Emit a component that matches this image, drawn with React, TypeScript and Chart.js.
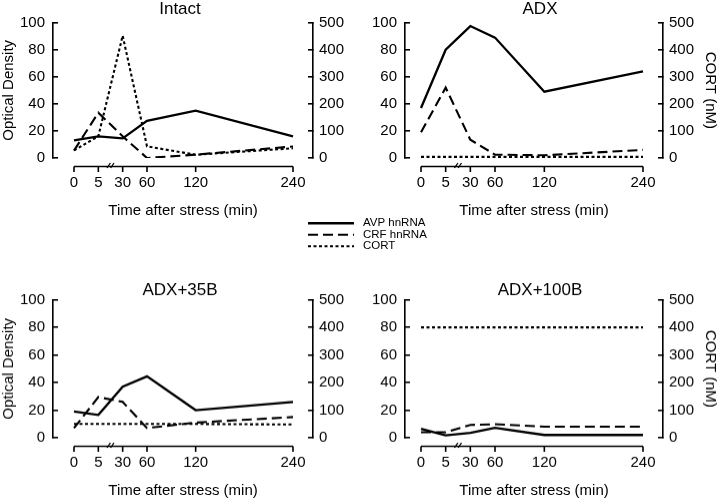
import React, { useEffect, useRef } from 'react';
import { Chart, registerables } from 'chart.js';

Chart.register(...registerables);

// ---- data ----
const TIME_MIN = [0, 5, 30, 60, 120, 240];
// evenly spaced slots of the broken time axis (0,5,30,60 one slot apart; 120 and 240 further out)
const TIME_SLOT = [0, 1, 2, 3, 5, 9];
const SERIES = ['AVP hnRNA', 'CRF hnRNA', 'CORT'];
const PANEL_TITLES = ['Intact', 'ADX', 'ADX+35B', 'ADX+100B'];

const INTACT_AVP = [13, 16, 14.5, 27.5, 35, 16];
const INTACT_CRF = [5.5, 33.5, 16, 0, 2.5, 8.5];
const INTACT_CORT = [28, 80, 452, 43, 12, 36];

const ADX_AVP = [37, 80, 97.5, 89, 49, 64];
const ADX_CRF = [19, 52, 13.5, 2.5, 2, 6];
const ADX_CORT = [4, 4, 4, 4, 4, 4];

const ADX35_AVP = [19, 16.5, 37, 44.5, 20, 26];
const ADX35_CRF = [7, 29.5, 26, 7, 11, 15];
const ADX35_CORT = [50, 50, 50, 50, 50, 48];

const ADX100_AVP = [6.5, 1.7, 3.5, 7.2, 2, 2];
const ADX100_CRF = [4, 4, 9.3, 9.8, 8, 8];
const ADX100_CORT = [400, 400, 400, 400, 400, 400];

const Y_LEFT_TICKS = [0, 20, 40, 60, 80, 100];
const Y_RIGHT_TICKS = [0, 100, 200, 300, 400, 500];

// ---- styles ----
const FONT = "'Liberation Sans', Arial, Helvetica, sans-serif";
const INK = '#000';
const STYLES = [
  { width: 2.3, dash: [] as number[] },
  { width: 2.1, dash: [10, 5] },
  { width: 2.1, dash: [3, 2.5] },
];

Chart.defaults.font.family = FONT;
Chart.defaults.color = INK;

const PANELS = [
  { title: PANEL_TITLES[0], avp: INTACT_AVP, crf: INTACT_CRF, cort: INTACT_CORT, col: 0, row: 0 },
  { title: PANEL_TITLES[1], avp: ADX_AVP, crf: ADX_CRF, cort: ADX_CORT, col: 1, row: 0 },
  { title: PANEL_TITLES[2], avp: ADX35_AVP, crf: ADX35_CRF, cort: ADX35_CORT, col: 0, row: 1 },
  { title: PANEL_TITLES[3], avp: ADX100_AVP, crf: ADX100_CRF, cort: ADX100_CORT, col: 1, row: 1 },
];

const PANEL_W = 360;
const ROW_GEO = [
  { top: 0, height: 220, titlePad: { top: 1, bottom: 4.7 } },
  { top: 277.3, height: 222.4, titlePad: { top: 5.2, bottom: 0.5 } },
];
const COL_GEO = [
  { left: 0, yW: 53, y2W: 47, xMin: -0.863, xMax: 9.822 },
  { left: 360, yW: 45, y2W: 57, xMin: -0.649, xMax: 9.811 },
];
const X_AXIS_GAP = 8.5;
const BREAK_SLOT = 1.5;

const brokenAxisPlugin = {
  id: 'brokenAxis',
  afterDraw(chart: any) {
    const xs = chart.scales.x;
    const ctx = chart.ctx;
    const y0 = chart.chartArea.bottom + X_AXIS_GAP;
    const xa = xs.getPixelForValue(TIME_SLOT[0]);
    const xb = xs.getPixelForValue(TIME_SLOT[TIME_SLOT.length - 1]);
    ctx.save();
    ctx.strokeStyle = INK;
    ctx.lineWidth = 1.6;
    ctx.beginPath();
    ctx.moveTo(xa, y0);
    ctx.lineTo(xb, y0);
    TIME_SLOT.forEach((v) => {
      const px = xs.getPixelForValue(v);
      ctx.moveTo(px, y0);
      ctx.lineTo(px, y0 + 5.5);
    });
    ctx.stroke();
    const bx = xs.getPixelForValue(BREAK_SLOT);
    ctx.lineWidth = 1.3;
    ctx.beginPath();
    [-1.8, 1.8].forEach((d) => {
      ctx.moveTo(bx + d - 1.7, y0 + 1.5);
      ctx.lineTo(bx + d + 1.7, y0 - 3.5);
    });
    ctx.stroke();
    ctx.restore();
  },
};

function makePanelConfig(p: any): any {
  const g = COL_GEO[p.col];
  const r = ROW_GEO[p.row];
  const mk = (vals: number[]) => TIME_SLOT.map((s, i) => ({ x: s, y: vals[i] }));
  const tickFont = { family: FONT, size: 15 };
  const titleFont = { family: FONT, size: 15, weight: 'normal' as const };
  return {
    type: 'line',
    data: {
      datasets: [
        { label: SERIES[0], data: mk(p.avp), yAxisID: 'y', borderColor: INK, borderWidth: STYLES[0].width, borderDash: STYLES[0].dash, pointRadius: 0, tension: 0, fill: false },
        { label: SERIES[1], data: mk(p.crf), yAxisID: 'y', borderColor: INK, borderWidth: STYLES[1].width, borderDash: STYLES[1].dash, pointRadius: 0, tension: 0, fill: false },
        { label: SERIES[2], data: mk(p.cort), yAxisID: 'y2', borderColor: INK, borderWidth: STYLES[2].width, borderDash: STYLES[2].dash, pointRadius: 0, tension: 0, fill: false },
      ],
    },
    options: {
      responsive: false,
      animation: false,
      devicePixelRatio: 1,
      layout: { padding: 0 },
      plugins: {
        legend: { display: false },
        tooltip: { enabled: false },
        title: {
          display: true,
          text: p.title,
          color: INK,
          font: { family: FONT, size: 17, weight: 'normal', lineHeight: 1 },
          padding: r.titlePad,
        },
      },
      scales: {
        x: {
          type: 'linear',
          position: 'bottom',
          min: g.xMin,
          max: g.xMax,
          grid: { display: false, drawTicks: false },
          border: { display: false },
          afterBuildTicks: (s: any) => {
            s.ticks = TIME_SLOT.map((v) => ({ value: v }));
          },
          afterFit: (s: any) => {
            s.height = 62;
          },
          ticks: {
            autoSkip: false,
            maxRotation: 0,
            padding: 16,
            color: INK,
            font: tickFont,
            callback: (v: any) => {
              const i = TIME_SLOT.indexOf(Number(v));
              return i < 0 ? '' : String(TIME_MIN[i]);
            },
          },
          title: { display: true, text: 'Time after stress (min)', color: INK, font: titleFont, padding: { top: 0, bottom: 0 } },
        },
        y: {
          position: 'left',
          min: 0,
          max: 100,
          afterBuildTicks: (s: any) => {
            s.ticks = Y_LEFT_TICKS.map((v) => ({ value: v }));
          },
          afterFit: (s: any) => {
            s.width = g.yW;
          },
          ticks: { padding: 13, color: INK, font: tickFont },
          grid: { drawOnChartArea: false, drawTicks: true, tickLength: -5, color: INK, lineWidth: 1.6 },
          border: { display: true, color: INK, width: 1.6 },
          title: { display: p.col === 0, text: 'Optical Density', color: INK, font: titleFont, padding: { top: 0, bottom: 0 } },
        },
        y2: {
          position: 'right',
          min: 0,
          max: 500,
          afterBuildTicks: (s: any) => {
            s.ticks = Y_RIGHT_TICKS.map((v) => ({ value: v }));
          },
          afterFit: (s: any) => {
            s.width = g.y2W;
          },
          ticks: { padding: 11, color: INK, font: tickFont },
          grid: { drawOnChartArea: false, drawTicks: true, tickLength: -5, color: INK, lineWidth: 1.6 },
          border: { display: true, color: INK, width: 1.6 },
          title: { display: p.col === 1, text: 'CORT (nM)', color: INK, font: titleFont, padding: { top: 1, bottom: 0 } },
        },
      },
    },
    plugins: [brokenAxisPlugin],
  };
}

function makeLegendConfig(): any {
  return {
    type: 'line',
    data: {
      datasets: SERIES.map((name, i) => ({
        label: name,
        data: [],
        borderColor: INK,
        borderWidth: STYLES[i].width,
        borderDash: STYLES[i].dash,
        pointRadius: 0,
      })),
    },
    options: {
      responsive: false,
      animation: false,
      devicePixelRatio: 1,
      layout: { padding: { left: 8, top: 5.5, right: 0, bottom: 0 } },
      scales: { x: { display: false }, y: { display: false } },
      plugins: {
        tooltip: { enabled: false },
        title: { display: false },
        legend: {
          display: true,
          position: 'left',
          align: 'start',
          labels: {
            usePointStyle: true,
            pointStyle: 'line',
            pointStyleWidth: 46,
            boxHeight: 11,
            padding: 0,
            color: INK,
            font: { family: FONT, size: 11.5 },
            generateLabels: (chart: any) => {
              const base = (Chart.defaults as any).plugins.legend.labels.generateLabels(chart);
              return base.map((it: any) => {
                const ds = chart.data.datasets[it.datasetIndex];
                return {
                  ...it,
                  text: ' ' + it.text,
                  lineDash: ds.borderDash,
                  lineWidth: ds.borderWidth,
                  strokeStyle: INK,
                  fillStyle: INK,
                  pointStyle: 'line',
                };
              });
            },
          },
        },
      },
    },
  };
}

function ChartCanvas({ config, left, top, width, height }: any) {
  const ref = useRef<HTMLCanvasElement | null>(null);
  useEffect(() => {
    if (!ref.current) return;
    const chart = new Chart(ref.current, config);
    return () => chart.destroy();
  }, [config]);
  return (
    <canvas
      ref={ref}
      width={width}
      height={height}
      style={{ position: 'absolute', left, top, width, height }}
    />
  );
}

const PANEL_CONFIGS = PANELS.map((p) => makePanelConfig(p));
const LEGEND_CONFIG = makeLegendConfig();

export default function App() {
  return (
    <div style={{ position: 'absolute', left: 0, top: 0, width: 720, height: 501, background: '#fff', overflow: 'hidden' }}>
      {PANELS.map((p, i) => (
        <ChartCanvas
          key={i}
          config={PANEL_CONFIGS[i]}
          left={COL_GEO[p.col].left}
          top={ROW_GEO[p.row].top}
          width={PANEL_W}
          height={ROW_GEO[p.row].height}
        />
      ))}
      <ChartCanvas config={LEGEND_CONFIG} left={300} top={212} width={300} height={50} />
    </div>
  );
}
